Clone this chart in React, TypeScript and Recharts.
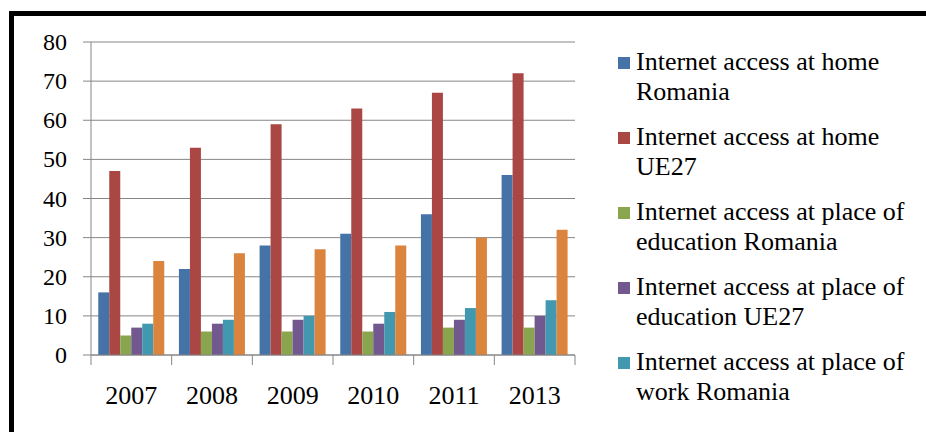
import React from "react";
import {BarChart, Bar, XAxis, YAxis, CartesianGrid} from "recharts";

const years = ["2007", "2008", "2009", "2010", "2011", "2013"];
const homeRomania = [16, 22, 28, 31, 36, 46];
const homeUe27 = [47, 53, 59, 63, 67, 72];
const educationRomania = [5, 6, 6, 6, 7, 7];
const educationUe27 = [7, 8, 9, 8, 9, 10];
const workRomania = [8, 9, 10, 11, 12, 14];
const workUe27 = [24, 26, 27, 28, 30, 32];
const yTicks = [0, 10, 20, 30, 40, 50, 60, 70, 80];

const seriesNames = [
    "Internet access at home Romania",
    "Internet access at home UE27",
    "Internet access at place of education Romania",
    "Internet access at place of education UE27",
    "Internet access at place of work Romania",
    "Internet access at place of work UE27",
];
const seriesColors = ["#4572A7", "#AA4643", "#89A54E", "#71588F", "#4198AF", "#DB843D"];
// legend box is cut off in the original, only five entries show
const legendShown = 5;

const data = years.map((year, i) => ({
    year,
    s0: homeRomania[i],
    s1: homeUe27[i],
    s2: educationRomania[i],
    s3: educationUe27[i],
    s4: workRomania[i],
    s5: workUe27[i],
}));

const font = "'Liberation Serif', 'Times New Roman', serif";
const axisGray = "#868686";

function YearTick(props: any) {
    const {x, y, payload, index} = props;
    const half = payload.offset ?? 40.33;
    return (
        <g>
            <line x1={x - half} x2={x - half} y1={y} y2={y + 10} stroke={axisGray}/>
            {index === years.length - 1 && (
                <line x1={x + half} x2={x + half} y1={y} y2={y + 10} stroke={axisGray}/>
            )}
            <text x={x} y={y + 49} textAnchor="middle" fontSize={26} fontFamily={font} fill="#000">
                {payload.value}
            </text>
        </g>
    );
}

function ValueTick(props: any) {
    const {x, y, payload} = props;
    return (
        <text x={x} y={y} dy={8} textAnchor="end" fontSize={24} fontFamily={font} fill="#000">
            {payload.value}
        </text>
    );
}

function LegendBox() {
    return (
        <div style={{
            position: "absolute", left: 612, top: 47, width: 310,
            fontFamily: font, fontSize: 26, lineHeight: "30px", color: "#000",
        }}>
            {seriesNames.slice(0, legendShown).map((name, i) => (
                <div key={name} style={{position: "relative", paddingLeft: 24, marginBottom: 15, width: 284}}>
                    <span style={{
                        position: "absolute", left: 6, top: 10, width: 12, height: 12,
                        background: seriesColors[i],
                    }}/>
                    {name}
                </div>
            ))}
        </div>
    );
}

export default function App() {
    return (
        <div style={{position: "absolute", left: 0, top: 0, width: 926, height: 432, overflow: "hidden", background: "#fff"}}>
            <div style={{
                position: "absolute", left: 9, top: 11, width: 1000, height: 500,
                border: "5px solid #000", boxSizing: "border-box",
            }}/>
            <div style={{position: "absolute", left: 0, top: 0}}>
                <BarChart
                    width={926}
                    height={432}
                    data={data}
                    margin={{top: 42, right: 351, bottom: 27, left: 31}}
                    barCategoryGap="9%"
                    barGap={0}
                >
                    <CartesianGrid vertical={false} stroke={axisGray}/>
                    <XAxis
                        dataKey="year"
                        height={50}
                        interval={0}
                        tickLine={false}
                        tickSize={0}
                        tickMargin={0}
                        axisLine={{stroke: axisGray}}
                        tick={<YearTick/>}
                    />
                    <YAxis
                        width={60}
                        domain={[0, 80]}
                        ticks={yTicks}
                        interval={0}
                        tickSize={8}
                        tickMargin={16}
                        tickLine={{stroke: axisGray}}
                        axisLine={{stroke: axisGray}}
                        tick={<ValueTick/>}
                    />
                    {seriesNames.map((name, i) => (
                        <Bar
                            key={name}
                            dataKey={"s" + i}
                            name={name}
                            fill={seriesColors[i]}
                            isAnimationActive={false}
                        />
                    ))}
                </BarChart>
            </div>
            <LegendBox/>
        </div>
    );
}
